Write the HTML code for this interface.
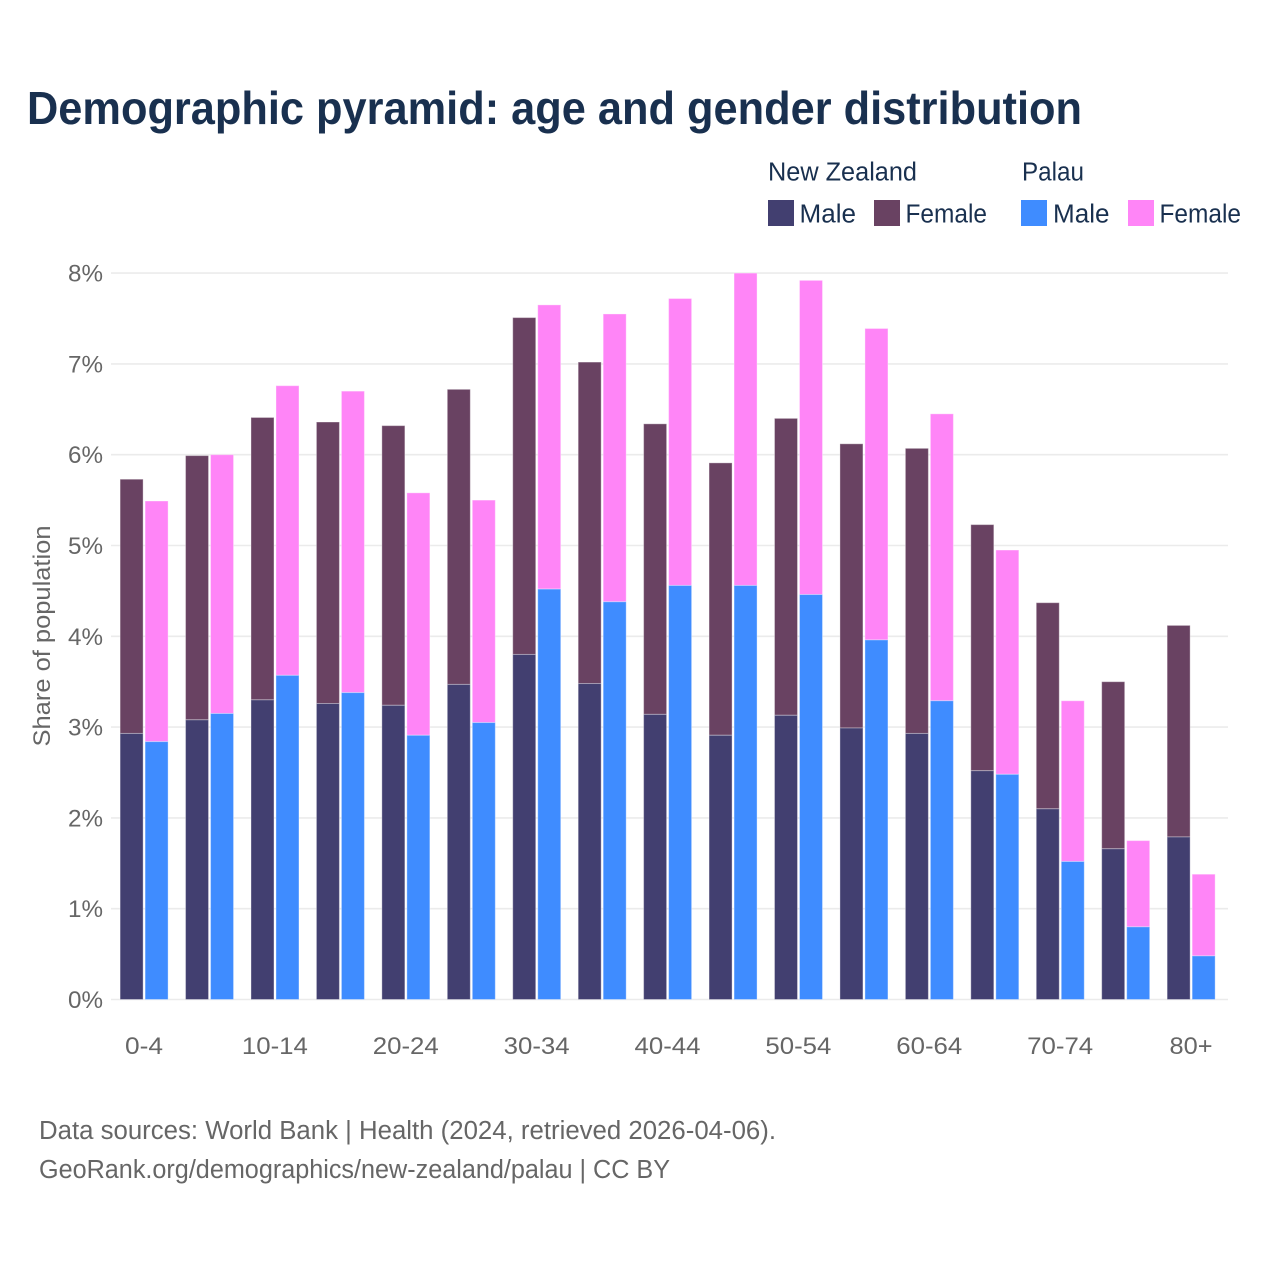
<!DOCTYPE html>
<html lang="en">
<head>
<meta charset="utf-8">
<title>Demographic pyramid</title>
<style>
html,body{margin:0;padding:0;background:#fff;width:1280px;height:1280px;overflow:hidden}
svg{display:block}
text{font-family:"Liberation Sans",sans-serif}
</style>
</head>
<body>
<svg id="chart" xmlns="http://www.w3.org/2000/svg" width="1280" height="1280" viewBox="0 0 1280 1280">
  <rect width="1280" height="1280" fill="#fff"/>
  <text x="27" y="124" font-size="46" font-weight="700" fill="#19304f" textLength="1055" lengthAdjust="spacingAndGlyphs">Demographic pyramid: age and gender distribution</text>
  <text x="768" y="180.5" font-size="25.5" fill="#19304f" textLength="149" lengthAdjust="spacingAndGlyphs">New Zealand</text>
  <text x="1022" y="180.5" font-size="25.5" fill="#19304f" textLength="62" lengthAdjust="spacingAndGlyphs">Palau</text>
  <rect x="768" y="200" width="26" height="26" fill="#423f70"/>
  <text x="799.5" y="222.5" font-size="25.5" fill="#19304f" textLength="56.5" lengthAdjust="spacingAndGlyphs">Male</text>
  <rect x="874" y="200" width="26" height="26" fill="#694262"/>
  <text x="905.5" y="222.5" font-size="25.5" fill="#19304f" textLength="81.5" lengthAdjust="spacingAndGlyphs">Female</text>
  <rect x="1021" y="200" width="26" height="26" fill="#3f8cff"/>
  <text x="1053" y="222.5" font-size="25.5" fill="#19304f" textLength="56.5" lengthAdjust="spacingAndGlyphs">Male</text>
  <rect x="1128" y="200" width="26" height="26" fill="#ff85f7"/>
  <text x="1159.5" y="222.5" font-size="25.5" fill="#19304f" textLength="81.5" lengthAdjust="spacingAndGlyphs">Female</text>
  <g id="grid"></g>
  <g id="bars"></g>
  <g id="ylabels"></g>
  <g id="xlabels"></g>
  <text transform="translate(50,636) rotate(-90)" text-anchor="middle" font-size="24" fill="#666" textLength="221" lengthAdjust="spacingAndGlyphs">Share of population</text>
  <text x="39" y="1139" font-size="25.5" fill="#666" textLength="737" lengthAdjust="spacingAndGlyphs">Data sources: World Bank | Health (2024, retrieved 2026-04-06).</text>
  <text x="39" y="1178" font-size="25.5" fill="#666" textLength="631" lengthAdjust="spacingAndGlyphs">GeoRank.org/demographics/new-zealand/palau | CC BY</text>
</svg>
<script>
const categories = ['0-4','5-9','10-14','15-19','20-24','25-29','30-34','35-39','40-44','45-49','50-54','55-59','60-64','65-69','70-74','75-79','80+'];
const nzMale = [2.93,3.08,3.30,3.26,3.24,3.47,3.80,3.48,3.14,2.91,3.13,2.99,2.93,2.52,2.10,1.66,1.79];
const nzFemale = [2.80,2.91,3.11,3.10,3.08,3.25,3.71,3.54,3.20,3.00,3.27,3.13,3.14,2.71,2.27,1.84,2.33];
const palauMale = [2.84,3.15,3.57,3.38,2.91,3.05,4.52,4.38,4.56,4.56,4.46,3.96,3.29,2.48,1.52,0.80,0.48];
const palauFemale = [2.65,2.85,3.19,3.32,2.67,2.45,3.13,3.17,3.16,3.44,3.46,3.43,3.16,2.47,1.77,0.95,0.90];
const yTicks = [0,1,2,3,4,5,6,7,8];

const NS = 'http://www.w3.org/2000/svg';
const plotLeft = 111, plotRight = 1228, bandStep = 65.44, bandStart = 111.5;
const yZero = 999.5, yPerUnit = 90.8;
const barW = 23, barGap = 2;
const yScale = v => yZero - v * yPerUnit;
const xBand = i => bandStart + i * bandStep;

function make(tag, attrs, parent) {
  const el = document.createElementNS(NS, tag);
  for (const k in attrs) el.setAttribute(k, attrs[k]);
  parent.appendChild(el);
  return el;
}

const grid = document.getElementById('grid');
const ylabels = document.getElementById('ylabels');
yTicks.forEach(t => {
  const line = make('line', {x1: plotLeft, x2: plotRight, y1: yScale(t), y2: yScale(t), stroke: '#ebebeb', 'stroke-width': 1.6}, grid);
  
  
  const label = make('text', {x: 103, y: yScale(t) + 8.5, 'text-anchor': 'end', 'font-size': 24, fill: '#666', textLength: 35, lengthAdjust: 'spacingAndGlyphs'}, ylabels);
  label.textContent = t + '%';
  
  
});

const bars = document.getElementById('bars');
function stackedBar(x, male, female, maleColor, femaleColor, name) {
  const yM = yScale(male), yT = yScale(male + female);
  const f = make('rect', {x: x, y: yT, width: barW, height: yM - yT, fill: femaleColor, stroke: '#fff', 'stroke-opacity': 0.35, 'stroke-width': 1}, bars);
  
  
  const m = make('rect', {x: x, y: yM, width: barW, height: yZero - yM, fill: maleColor, stroke: '#fff', 'stroke-opacity': 0.35, 'stroke-width': 1}, bars);
  
  
}

const xlabels = document.getElementById('xlabels');
categories.forEach((c, i) => {
  const x0 = xBand(i) + 8.6;
  stackedBar(x0, nzMale[i], nzFemale[i], '#423f70', '#694262', 'bar-nz-' + c);
  stackedBar(x0 + barW + barGap, palauMale[i], palauFemale[i], '#3f8cff', '#ff85f7', 'bar-palau-' + c);
  if (i % 2 === 0) {
    const label = make('text', {x: xBand(i) + 32.5, y: 1054, 'text-anchor': 'middle', 'font-size': 24, fill: '#666'}, xlabels);
    label.setAttribute('textLength', c === '0-4' ? 38 : (c === '80+' ? 43 : 66));
    label.setAttribute('lengthAdjust', 'spacingAndGlyphs');
    label.textContent = c;
    
    
  }
});
</script>
</body>
</html>
